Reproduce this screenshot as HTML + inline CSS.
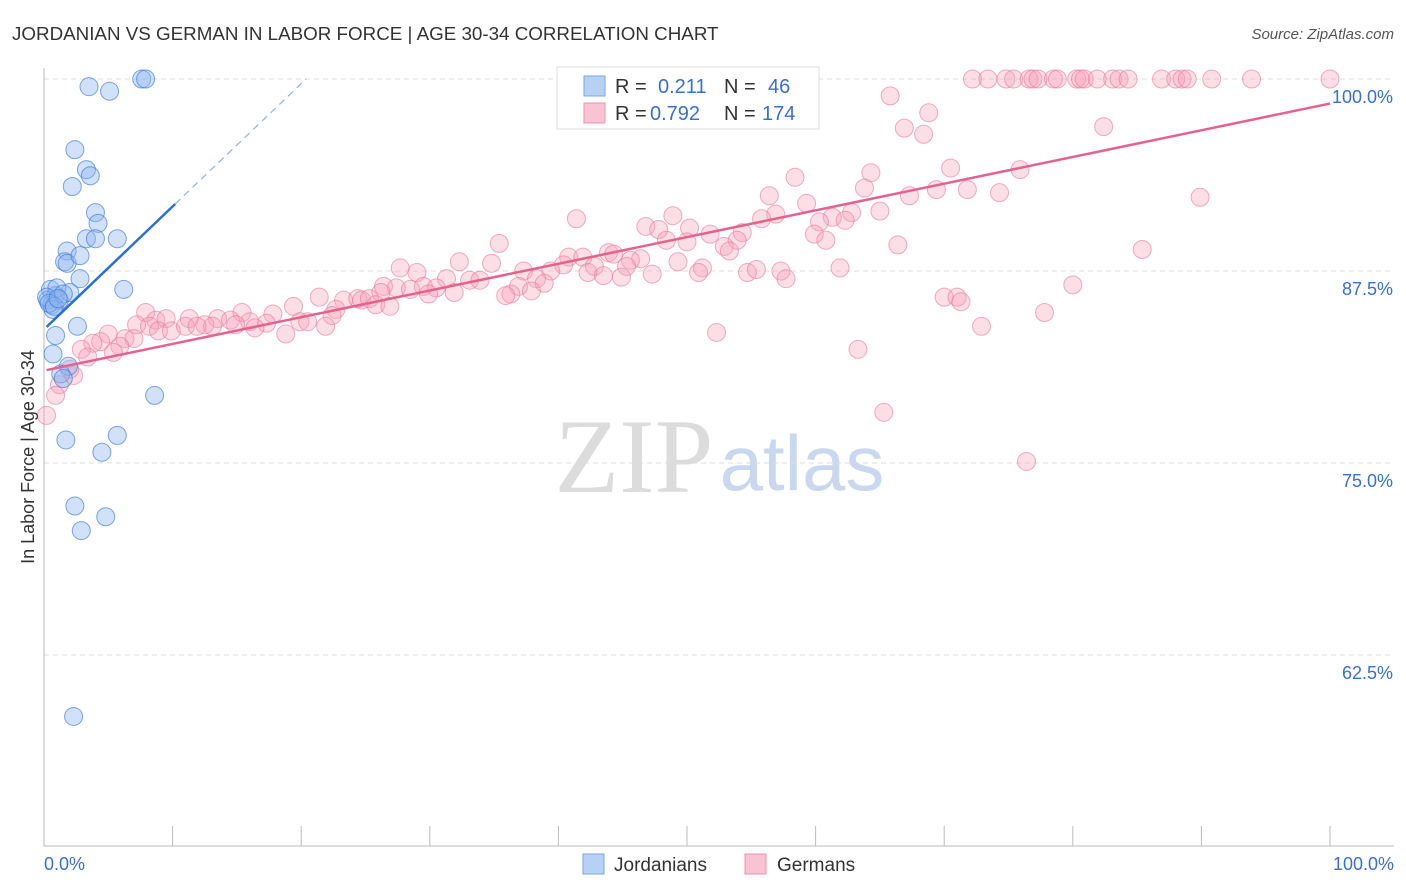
<!DOCTYPE html>
<html><head><meta charset="utf-8">
<style>
body{margin:0;background:#fff;font-family:"Liberation Sans",sans-serif;}
svg{display:block}
</style></head>
<body>
<svg id="chart" width="1406" height="892" xmlns="http://www.w3.org/2000/svg">
<text x="12" y="40" font-size="18.8" fill="#333">JORDANIAN VS GERMAN IN LABOR FORCE | AGE 30-34 CORRELATION CHART</text>
<text x="1394" y="39" font-size="15" fill="#555" font-style="italic" text-anchor="end">Source: ZipAtlas.com</text>
<g>
<text x="634" y="492" font-size="106" fill="#dcdcdc" font-family="Liberation Serif,serif" text-anchor="middle">ZIP</text>
<text x="802" y="490" font-size="78" fill="#c9d8ef" text-anchor="middle">atlas</text>
</g>
<g id="grid"></g>
<g id="axes"></g>
<g id="pts"></g>
<g id="lines"></g>
<text transform="translate(34,457) rotate(-90)" font-size="18" fill="#333" text-anchor="middle">In Labor Force | Age 30-34</text>
<g>
<rect x="557" y="67" width="262" height="62" fill="#fff" stroke="#ddd"/>
<rect x="584" y="76" width="21" height="20" fill="#b7d1f5" stroke="#7aa6e6"/>
<rect x="584" y="103" width="21" height="20" fill="#f9c3d3" stroke="#eb95b0"/>
<text x="615" y="93" font-size="20" fill="#333">R =</text>
<text x="658" y="93" font-size="20" fill="#3a6fd0">0.211</text>
<text x="724" y="93" font-size="20" fill="#333">N =</text>
<text x="768" y="93" font-size="20" fill="#3a6fd0">46</text>
<text x="615" y="120" font-size="20" fill="#333">R =</text>
<text x="650" y="120" font-size="20" fill="#3a6fd0">0.792</text>
<text x="724" y="120" font-size="20" fill="#333">N =</text>
<text x="762" y="120" font-size="20" fill="#3a6fd0">174</text>
</g>
<g>
<rect x="583" y="854" width="21" height="20" fill="#b7d1f5" stroke="#7aa6e6"/>
<text x="614" y="871" font-size="19" fill="#333">Jordanians</text>
<rect x="745" y="854" width="21" height="20" fill="#f9c3d3" stroke="#eb95b0"/>
<text x="777" y="871" font-size="19" fill="#333">Germans</text>
</g>
</svg>
<script>
const yTicks=[100,87.5,75,62.5];
const yTickLabels=["100.0%","87.5%","75.0%","62.5%"];
const xTickLabels=["0.0%","100.0%"];
const jorX=[3.5,5.1,7.6,7.9,2.4,3.3,3.6,2.2,4.0,4.2,3.3,4.0,5.7,1.8,1.6,1.8,2.8,2.8,6.2,0.5,0.9,0.3,0.6,1.2,2.0,1.0,0.2,0.7,2.6,0.9,0.7,1.9,1.3,1.5,8.6,1.7,5.7,4.5,2.4,4.8,2.9,2.3,0.4,1.5,0.8,1.1];
const jorY=[99.5,99.2,100,100,95.4,94.1,93.7,93.0,91.3,90.6,89.6,89.6,89.6,88.8,88.1,88.0,88.5,87.0,86.3,86.3,85.9,85.6,85.3,85.6,86.1,86.4,85.8,85.0,83.9,83.3,82.1,81.3,80.8,80.5,79.4,76.5,76.8,75.7,72.2,71.5,70.6,58.5,85.4,86.0,85.2,85.7];
const gerX=[72.2,73.4,74.8,75.4,76.6,76.9,77.3,78.5,78.8,80.3,80.6,80.9,81.9,83.1,83.6,84.3,86.9,88.0,88.5,88.9,90.8,93.9,100,
65.8,68.8,66.9,68.4,82.4,75.9,70.5,64.3,58.4,63.8,69.4,71.8,74.3,67.3,89.9,56.4,59.3,65.0,62.8,56.9,61.3,55.8,48.9,41.4,46.8,47.8,60.3,62.3,50.2,51.8,54.3,59.9,53.9,48.4,50.0,60.8,66.4,52.9,53.3,85.4,35.4,40.8,41.9,43.9,44.3,46.4,45.6,40.4,32.3,34.8,27.7,49.3,51.2,45.3,42.8,42.3,43.5,44.9,47.3,50.9,54.7,55.4,57.3,57.7,61.9,37.3,39.4,29.0,31.3,33.1,33.9,38.3,38.9,26.4,27.4,29.5,30.5,31.9,36.9,37.9,36.3,35.9,29.9,28.5,26.2,21.4,23.3,24.4,24.7,25.3,25.8,26.9,19.4,22.7,22.4,15.4,17.8,7.9,8.7,9.5,11.3,13.5,14.5,16.0,17.3,12.5,13.1,14.9,16.4,19.9,20.5,21.9,7.2,8.2,8.9,9.9,11.0,11.9,18.8,52.3,5.0,6.3,7.0,4.4,3.8,2.9,5.9,5.4,3.4,63.3,70.0,71.0,71.3,72.9,77.8,80.0,2.3,2.0,1.2,0.9,0.2,65.3,76.4];
const gerY=[100,100,100,100,100,100,100,100,100,100,100,100,100,100,100,100,100,100,100,100,100,100,100,
98.9,97.8,96.8,96.4,96.9,94.1,94.2,93.9,93.6,92.9,92.8,92.8,92.6,92.4,92.3,92.4,91.9,91.4,91.3,91.2,91.0,90.9,91.1,90.9,90.4,90.2,90.7,90.8,90.3,89.9,90.0,89.9,89.5,89.5,89.4,89.5,89.2,89.1,88.8,88.9,89.3,88.4,88.4,88.7,88.6,88.3,88.2,87.9,88.1,88.0,87.7,88.1,87.7,87.8,87.8,87.4,87.2,87.1,87.3,87.4,87.4,87.6,87.5,87.0,87.7,87.5,87.5,87.4,87.0,86.9,86.9,87.0,86.7,86.5,86.4,86.5,86.4,86.1,86.5,86.2,86.0,85.9,86.0,86.3,86.1,85.8,85.6,85.7,85.6,85.7,85.3,85.2,85.2,85.0,84.6,84.8,84.7,84.8,84.3,84.4,84.4,84.4,84.3,84.2,84.1,84.0,83.9,84.0,83.8,84.2,84.2,83.9,84.0,83.9,83.6,83.6,83.9,83.9,83.4,83.5,83.4,83.1,83.1,82.9,82.8,82.4,82.6,82.2,81.9,82.4,85.8,85.8,85.5,83.9,84.8,86.6,80.7,81.1,80.1,79.4,78.1,78.3,75.1];
const jorTrend=[83.7,100];
const jorSlope=0.8;
const gerTrend=[81.05,98.4];

const NS="http://www.w3.org/2000/svg";
const X0=44,X1=1330,YTOP=79,PPU=15.36;
const xs=v=>X0+(X1-X0)*v/100;
const ys=v=>YTOP+(100-v)*PPU;
function mk(tag,attrs,parent){const e=document.createElementNS(NS,tag);for(const k in attrs)e.setAttribute(k,attrs[k]);document.getElementById(parent).appendChild(e);return e;}

yTicks.forEach((t,i)=>{
  const l=mk('line',{x1:X0,x2:1394,y1:ys(t),y2:ys(t),stroke:'#ddd','stroke-dasharray':'5,4'},'grid');
  
  
  const tx=mk('text',{x:1393,y:ys(t)+24,'font-size':18,fill:'#3a6fd0','text-anchor':'end'},'axes');
  tx.textContent=yTickLabels[i];
  
  
});
let ax=mk('line',{x1:X0,x2:X0,y1:68,y2:846,stroke:'#bbb'},'axes');


ax=mk('line',{x1:X0,x2:1394,y1:846,y2:846,stroke:'#bbb'},'axes');


for(let i=0;i<=10;i++){
  const t=mk('line',{x1:xs(i*10),x2:xs(i*10),y1:826,y2:846,stroke:'#bbb'},'axes');
  
  
}
[[0,'start',44],[100,'end',1394]].forEach((d,i)=>{
  const t=mk('text',{x:d[2],y:870,'font-size':18,fill:'#3a6fd0','text-anchor':d[1]},'axes');
  t.textContent=xTickLabels[i];
  
  
});
gerX.forEach((x,i)=>{
  const c=mk('circle',{cx:xs(x),cy:ys(gerY[i]),r:9,fill:'rgba(246,160,187,0.35)',stroke:'rgba(232,120,155,0.6)','stroke-width':1},'pts');
  
  
});
jorX.forEach((x,i)=>{
  const c=mk('circle',{cx:xs(x),cy:ys(jorY[i]),r:9,fill:'rgba(140,180,240,0.4)',stroke:'rgba(60,120,215,0.65)','stroke-width':1},'pts');
  
  
});
const xEnd=(jorTrend[1]-jorTrend[0])/jorSlope;
let ln=mk('line',{x1:xs(0.2),y1:ys(jorTrend[0]+0.2*jorSlope),x2:xs(10.2),y2:ys(jorTrend[0]+10.2*jorSlope),stroke:'#2a6fd6','stroke-width':2.5},'lines');


ln=mk('line',{x1:xs(10.2),y1:ys(jorTrend[0]+10.2*jorSlope),x2:xs(xEnd),y2:ys(jorTrend[1]),stroke:'#8fb2e6','stroke-width':1.2,'stroke-dasharray':'7,5'},'lines');


ln=mk('line',{x1:xs(0.2),y1:ys(gerTrend[0]),x2:xs(100),y2:ys(gerTrend[1]),stroke:'#e4638e','stroke-width':2.5},'lines');


</script>
</body></html>
